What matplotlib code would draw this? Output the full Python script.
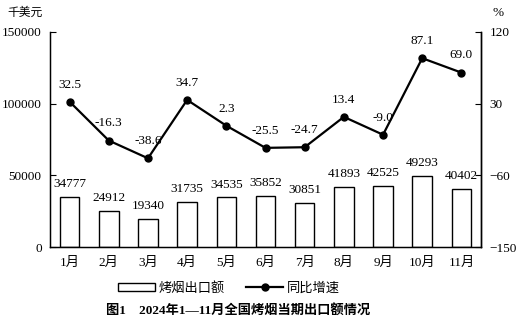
import numpy as np
import matplotlib
matplotlib.use("Agg")
import matplotlib.pyplot as plt
from matplotlib.patches import Rectangle
from matplotlib.lines import Line2D

plt.rcParams['font.family'] = ['Liberation Serif', 'Noto Sans CJK SC']

months = ['1月', '2月', '3月', '4月', '5月', '6月', '7月', '8月', '9月', '10月', '11月']
export_value = [34777, 24912, 19340, 31735, 34535, 35852, 30851, 41893, 42525, 49293, 40402]
growth = [32.5, -16.3, -38.6, 34.7, 2.3, -25.5, -24.7, 13.4, -9.0, 87.1, 69.0]

fig = plt.figure(figsize=(5.18, 3.22), dpi=100)
ax = fig.add_axes([50 / 518, 1 - 247 / 322, 431 / 518, 215 / 322])
x = np.arange(len(months))

bars = ax.bar(x, export_value, width=0.5, color='white', edgecolor='black', linewidth=1.0)
for xi, v in zip(x, export_value):
    ax.annotate(str(v), (xi, v), xytext=(0, 5), textcoords='offset points',
                ha='center', va='bottom', fontsize=9.5)

ax.set_xlim(-0.5, len(months) - 0.5)
ax.set_ylim(0, 150000)
ax.set_yticks([0, 50000, 100000, 150000])
ax.set_xticks(x)
ax.set_xticklabels(months)
ax.tick_params(axis='y', direction='in', length=4, labelsize=9.5, pad=6)
ax.tick_params(axis='x', length=0, labelsize=9.5, pad=7)
ax.spines['top'].set_visible(False)
for s in ['left', 'bottom', 'right']:
    ax.spines[s].set_linewidth(1.0)

ax2 = ax.twinx()
ax2.plot(x, growth, color='black', linewidth=1.6, marker='o', markersize=5)
ax2.set_ylim(-150, 120)
ax2.set_yticks([-150, -60, 30, 120])
ax2.tick_params(axis='y', direction='in', length=4, labelsize=9.5, pad=6)
ax2.spines['top'].set_visible(False)
ax2.spines['right'].set_linewidth(1.0)
for xi, g in zip(x, growth):
    ax2.annotate(f"{g:.1f}", (xi, g), xytext=(0, 8), textcoords='offset points',
                 ha='center', va='bottom', fontsize=9.5)

fig.text(7 / 518, 1 - 12 / 322, '千美元', fontsize=8.5, va='center', ha='left',
         family=['Noto Sans CJK SC'])
fig.text(498 / 518, 1 - 13 / 322, '%', fontsize=9.5, va='center', ha='center')

h1 = Rectangle((0, 0), 1, 1, facecolor='white', edgecolor='black', linewidth=1.0)
h2 = Line2D([], [], color='black', linewidth=1.6, marker='o', markersize=5)
fig.legend([h1, h2], ['烤烟出口额', '同比增速'], loc='center',
           bbox_to_anchor=(229 / 518, 1 - 288 / 322), ncol=2, frameon=False,
           prop={'family': ['Noto Sans CJK SC'], 'size': 9.5},
           handlelength=2.8, handleheight=0.6, columnspacing=1.6, handletextpad=0.3)

fig.text(238 / 518, 1 - 310 / 322, '图1　2024年1—11月全国烤烟当期出口额情况',
         fontsize=9.5, fontweight='bold', ha='center', va='center',
         family=['Liberation Serif', 'Noto Sans CJK SC'])

fig.savefig('out.png', dpi=100)
